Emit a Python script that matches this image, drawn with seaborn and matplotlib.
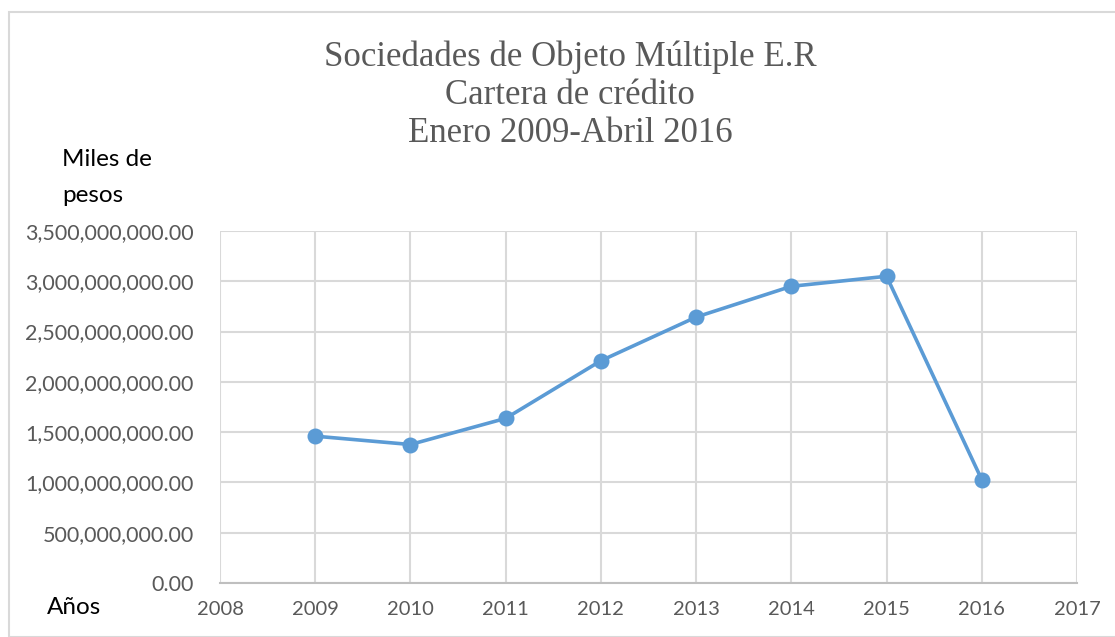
import matplotlib
matplotlib.use("Agg")
import matplotlib.pyplot as plt
import seaborn as sns
import pandas as pd
from matplotlib.ticker import FuncFormatter, MultipleLocator
from matplotlib.patches import Rectangle

# --- Data ---
years = [2009, 2010, 2011, 2012, 2013, 2014, 2015, 2016]
cartera = [1.46e9, 1.377e9, 1.637e9, 2.21e9, 2.644e9, 2.95e9, 3.05e9, 1.027e9]

title_lines = ["Sociedades de Objeto Múltiple E.R", "Cartera de crédito", "Enero 2009-Abril 2016"]
ylabel_lines = ["Miles de", "pesos"]
xlabel_text = "Años"

df = pd.DataFrame({"year": years, "value": cartera})

sns.set_style("white")
plt.rcParams['font.family'] = ['Lato', 'DejaVu Sans']

W, H = 1115, 637
fig = plt.figure(figsize=(W / 100, H / 100), dpi=100)
ax = fig.add_axes([220 / W, 1 - 583 / H, (1077 - 220) / W, (583 - 231) / H])

grid_c = '#D9D9D9'
text_c = '#595959'

sns.lineplot(data=df, x='year', y='value', ax=ax, color='#5B9BD5', linewidth=2.6,
             marker='o', markersize=11.5, markeredgewidth=0, zorder=3)

ax.set_xlim(2008, 2017)
ax.set_ylim(0, 3.5e9)
ax.xaxis.set_major_locator(MultipleLocator(1))
ax.yaxis.set_major_locator(MultipleLocator(5e8))
ax.yaxis.set_major_formatter(FuncFormatter(lambda v, p: f"{v:,.2f}"))
ax.xaxis.set_major_formatter(FuncFormatter(lambda v, p: f"{int(round(v))}"))
ax.grid(True, color=grid_c, linewidth=1.5)
ax.set_axisbelow(True)
for s in ['left', 'right', 'top']:
    ax.spines[s].set_visible(False)
ax.spines['bottom'].set_color('#BFBFBF')
ax.spines['bottom'].set_linewidth(1.5)
ax.tick_params(axis='x', length=0, labelsize=14.5, colors=text_c, pad=13)
ax.tick_params(axis='y', length=0, labelsize=15.5, colors=text_c, pad=19)
ax.set_xlabel("")
ax.set_ylabel("")

# title
for i, line in enumerate(title_lines):
    fig.text(570 / W, 1 - (57 + 38 * i) / H, line, ha='center', va='center',
             fontsize=25, color=text_c, family='Liberation Serif')

fig.text(62 / W, 1 - 160 / H, ylabel_lines[0], ha='left', va='center', fontsize=17.5, color='black')
fig.text(62 / W, 1 - 196 / H, ylabel_lines[1], ha='left', va='center', fontsize=17.5, color='black')
fig.text(47 / W, 1 - 607 / H, xlabel_text, ha='left', va='center', fontsize=17.5, color='black')

# chart border
fig.patches.append(Rectangle((9 / W, 0), 1.2, 1 - 12 / H, transform=fig.transFigure,
                             fill=False, edgecolor='#D9D9D9', linewidth=1.5))

fig.savefig("out.png", dpi=100)
